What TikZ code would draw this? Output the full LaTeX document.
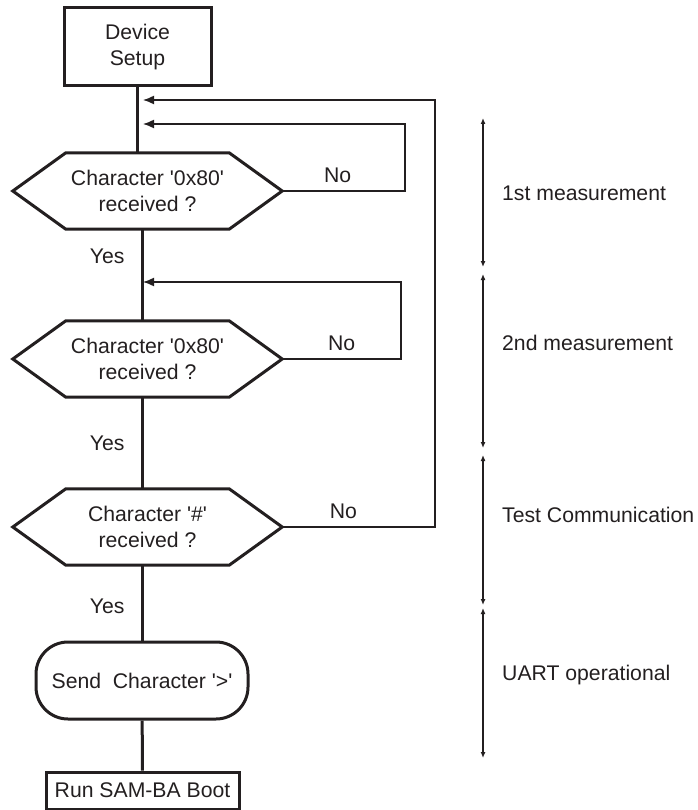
\documentclass[tikz,border=0pt]{standalone}
\usepackage{fontspec}
\setmainfont{Liberation Sans}
\usetikzlibrary{arrows.meta}
\definecolor{ink}{RGB}{35,31,32}
\tikzset{
  every node/.style={font=\fontsize{21.2}{25.5}\selectfont, text=ink},
  block/.style={draw=ink, line width=3pt, align=center, inner sep=0pt},
  decision/.style={minimum width=269pt, minimum height=76pt, align=center, inner sep=0pt},
  flow/.style={draw=ink, line width=3pt},
  back/.style={draw=ink, line width=1.5pt, -{Latex[length=11pt,width=9pt]}},
  span/.style={draw=ink, line width=1.4pt, {Latex[length=6pt,width=5pt]}-{Latex[length=6pt,width=5pt]}},
  lab/.style={inner sep=2pt},
}
\begin{document}
\begin{tikzpicture}[x=1pt,y=-1pt]
  \useasboundingbox (0,0) rectangle (697,810);
  \node[block, minimum width=147pt, minimum height=78pt] (setup) at (137.5,47) {Device\\Setup};
  \node[decision] (d1) at (147.5,191) {Character \textquotesingle0x80\textquotesingle\\received ?};
  \node[decision] (d2) at (147.5,359) {Character \textquotesingle0x80\textquotesingle\\received ?};
  \node[decision] (d3) at (147.5,527) {Character \textquotesingle\#\textquotesingle\\received ?};
  \node[block, rounded corners=32pt, minimum width=212pt, minimum height=77pt] (send) at (142,680.5) {Send\ \ Character \textquotesingle>\textquotesingle};
  \node[block, minimum width=193pt, minimum height=37pt] (run) at (142.5,790.5) {Run SAM-BA Boot};
  % hexagon outlines
  \foreach \d in {d1,d2,d3}
    \draw[ink, line width=3pt] (\d.west) -- ([xshift=53pt]\d.north west) -- ([xshift=-53pt]\d.north east)
      -- (\d.east) -- ([xshift=-53pt]\d.south east) -- ([xshift=53pt]\d.south west) -- cycle;
  % main flow
  \draw[flow] (setup.south) -- (setup.south |- d1.north);
  \draw[flow] (d1.south -| send) -- node[lab, left=14pt, pos=.3] {Yes} (d2.north -| send);
  \draw[flow] (d2.south -| send) -- node[lab, left=14pt] {Yes} (d3.north -| send);
  \draw[flow] (d3.south -| send) -- node[lab, left=14pt, pos=.54] {Yes} (send);
  \draw[flow] (send) -- (run);
  % loops back
  \coordinate (in0) at (143,100);
  \coordinate (in1) at (143,124);
  \coordinate (in2) at (143,282);
  \draw[back] (d1.east) -- node[lab, above=6pt, pos=.45] {No} ++(123,0) |- (in1);
  \draw[back] (d2.east) -- node[lab, above=6pt] {No} ++(119,0) |- (in2);
  \draw[back] (d3.east) -- node[lab, above=6pt, pos=.4] {No} ++(153,0) |- (in0);
  % phases
  \foreach \top/\bot/\y/\txt [count=\i] in {118/267/193/1st measurement, 274/448/343/2nd measurement,
      455/605/515/Test Communication, 608/758/673/UART operational} {
    \coordinate (s\i) at (483,\top);
    \coordinate (e\i) at (483,\bot);
    \draw[span] (s\i) -- (e\i);
    \node[anchor=west, inner sep=0pt, text height=15pt, text depth=0pt] (phase\i) at (502,\y) {\txt};
  }
\end{tikzpicture}
\end{document}
